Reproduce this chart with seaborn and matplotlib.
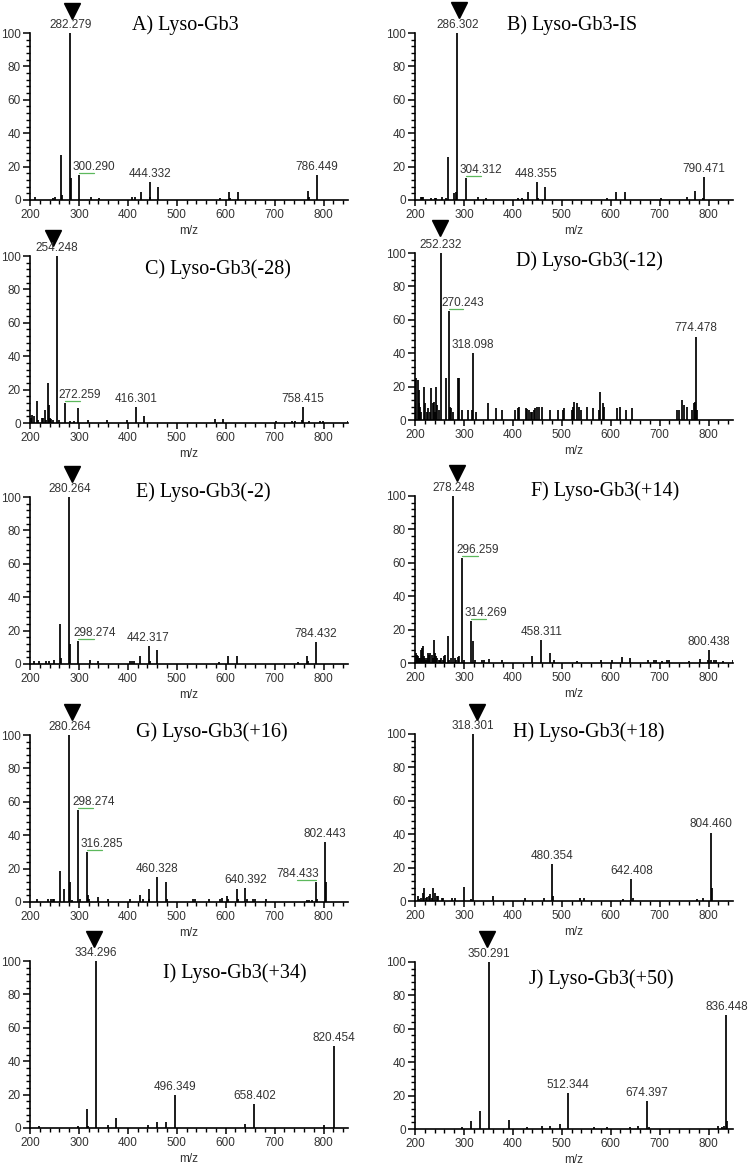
import matplotlib
matplotlib.use("Agg")
import matplotlib.pyplot as plt
import seaborn as sns
import pandas as pd
from matplotlib.ticker import MultipleLocator

sns.set_style("ticks")
plt.rcParams['font.family'] = ['Liberation Sans', 'DejaVu Sans']

# ---------------- data ----------------
A_mz = [210, 246, 251, 264.27, 266.3, 282.279, 283.28, 300.290, 324, 341, 408, 415,
        426.32, 444.332, 446.3, 462.34, 589, 606.38, 609, 624.39, 768.44, 771, 786.449]
A_int = [1.5, 1, 2, 27, 3, 100, 13, 15, 2, 1, 1.5, 1.5,
         5, 11, 1.5, 8, 1, 5, 1, 5, 5.5, 1.5, 15]
A_lab = [282.279, 300.290, 444.332, 786.449]

B_mz = [212, 214, 217, 233, 240, 242, 256, 263, 268.29, 280, 283, 286.302, 304.312,
        328, 345, 411, 418, 430.34, 448.355, 451, 466.36, 593, 610.40, 628.41, 703,
        756, 772.46, 788, 790.471]
B_int = [1.5, 1.5, 1.5, 1, 1, 1, 1.5, 1, 26, 4, 5, 100, 13,
         2, 1, 1, 1, 5, 11, 1, 8, 1, 4.5, 4.5, 1,
         1.5, 5.5, 1, 14]
B_lab = [286.302, 304.312, 448.355, 790.471]

C_mz = [202, 205, 208, 214, 217, 224, 227, 230.7, 233, 236, 238, 240.5, 243, 246,
        254.248, 260, 272.259, 282, 289, 298.27, 318, 358, 399, 416.301, 433, 578,
        595, 702, 735, 741, 756, 758.415, 770, 793, 798, 849]
C_int = [3, 5, 4, 13, 2, 3, 3, 8, 2, 24, 11, 3, 2.5, 1.5,
         100, 2, 12, 1, 1, 9, 2, 2, 1.5, 9.5, 4, 2.5,
         2.5, 1, 1, 1, 2, 9.5, 1, 1, 1, 1]
C_lab = [254.248, 272.259, 416.301, 758.415]

D_mz = [200.7, 202.7, 205.4, 207.5, 208.8, 210.9, 212.9, 218.4, 220.4, 225.2, 227.2,
        230.6, 233.3, 236.1, 238.1, 240.8, 242.9, 245.6, 249.0, 252.232, 262.6,
        270.243, 272.2, 273.5, 278.2, 287.8, 289.8, 296.6, 308.8, 315.6, 318.098,
        325.2, 349.7, 364.6, 378.2, 404.1, 410.2, 412.3, 427.9, 429.9, 432.7, 436.1,
        439.5, 442.9, 446.3, 449.0, 453.1, 459.9, 476.9, 492.5, 502.0, 504.1, 521.1,
        523.1, 525.2, 531.3, 534.7, 539.5, 552.4, 563.3, 575.5, 578.9, 584.4, 587.1,
        612.3, 619.8, 631.3, 644.2, 734.8, 738.8, 745.6, 750.4, 755.2, 766.7, 769.4,
        771.5, 774.478, 776.4]
D_int = [10, 25, 24, 18, 10, 8, 5, 20, 10, 5, 7,
         5, 19, 10, 11, 5, 20, 9, 6, 100, 25,
         65, 8, 7, 5, 25, 25, 6, 6, 6, 40,
         5, 10, 7, 6, 6, 7, 8, 7, 6.5, 6, 5,
         5, 6, 7, 8, 8, 8, 6, 6, 6, 7, 6,
         8, 11, 10, 8, 6, 8, 7, 6, 17, 10, 8,
         7, 8, 6, 7, 6, 6, 12, 9, 8, 6, 10,
         11, 50, 6]
D_lab = [252.232, 270.243, 318.098, 774.478]

E_mz = [208.8, 218.3, 232.5, 238, 248.8, 262.25, 264.3, 280.264, 282.27, 298.274, 322,
        338.3, 405.4, 408.8, 412.2, 424.31, 442.317, 444.3, 460.33, 586.5, 604.37,
        622.38, 747.8, 766.42, 769.0, 784.432]
E_int = [1.5, 1.5, 1.5, 1.5, 2.5, 24, 3.5, 100, 12, 14, 2.5,
         1.5, 1.5, 1.5, 1.5, 5, 11, 1.5, 8.5, 1, 5,
         4.5, 1, 5, 1.5, 13]
E_lab = [280.264, 298.274, 442.317, 784.432]

F_mz = [201.4, 203.4, 205.5, 207.5, 209.5, 211.6, 213.6, 215.7, 217.7, 220.5, 222.5,
        225.2, 227.3, 229.3, 231.4, 234.1, 236.1, 239.0, 240.9, 243.6, 245.7, 248.4,
        251.1, 253.9, 256.6, 259.3, 262.0, 267.0, 269.5, 273.0, 278.248, 280.8, 283.2,
        287.3, 290.0, 296.259, 299.5, 314.269, 318.0, 322.0, 337.7, 341.1, 351.4,
        377.3, 438.6, 458.311, 476.1, 483.6, 530.7, 580.5, 602.3, 622.7, 639.8, 675.9,
        689.5, 692.9, 704.5, 716.1, 718.2, 759.1, 782.8, 798.6, 800.438, 804.8, 810.2,
        815.7, 829.3, 849.8]
F_int = [6, 5, 4, 3, 3, 8, 9, 10, 4, 3, 2,
         3, 6, 5, 6, 5, 3, 14, 6, 4, 3, 2,
         2, 3, 2, 4, 5, 16, 1.5, 3, 100, 3, 2,
         3.5, 4, 63, 2, 25, 13, 2, 1.5, 1.5, 2.5,
         1.5, 4, 14, 6, 1.5, 1, 1.5, 1.5, 3.5, 3, 1.5,
         1.5, 1.5, 1, 1.5, 1.5, 1, 2.5, 1.5, 8, 2, 1.5,
         1.5, 1, 1.5]
F_lab = [278.248, 296.259, 314.269, 458.311, 800.438]

G_mz = [213.6, 236.7, 243.5, 246.3, 249.0, 262.25, 269.4, 280.264, 282.3, 285.0,
        298.274, 301.4, 316.285, 318.4, 321.1, 338.8, 359.2, 405.4, 424.5, 431.3,
        442.3, 444.2, 460.328, 478.34, 480.3, 533.3, 538.1, 566.0, 587.8, 593.2,
        602.7, 605.5, 622.39, 625.9, 640.392, 642.9, 655.8, 660.6, 682.3, 766.0,
        770.0, 775.5, 784.433, 786.4, 802.443, 804.8]
G_int = [2, 2, 2, 2, 2, 18.5, 8, 100, 12, 1,
         55, 1.5, 30, 4, 2, 3, 1.5, 2, 4, 1.5,
         8, 2, 15, 12, 2, 1.5, 1.5, 1.5, 1.5, 2.5,
         3.5, 2, 8, 1.5, 8.5, 2, 1.5, 1.5, 2, 1,
         1, 1, 12, 2, 36, 12]
G_lab = [280.264, 298.274, 316.285, 460.328, 640.392, 784.433, 802.443]

H_mz = [205.4, 208.8, 212.2, 215.6, 217.7, 221.8, 225.2, 228.6, 231.3, 234.0, 237.4,
        240.8, 244.2, 247.6, 254.4, 257.8, 274.8, 281.6, 300.29, 313.6, 318.301, 360.0,
        424.5, 464.0, 480.354, 483.0, 538.1, 544.9, 625.2, 642.408, 645.6, 776.9, 788.5,
        804.460, 806.8]
H_int = [3, 1, 2, 5, 8, 2, 2.5, 3, 4, 2, 8,
         5, 3, 3, 1.5, 1.5, 1.5, 2, 8.5, 1, 100, 3,
         2, 2, 22, 3, 1.5, 1.5, 1, 13, 1.5, 1, 2,
         41, 7.5]
H_lab = [318.301, 480.354, 642.408, 804.460]

I_mz = [218.3, 298.4, 316.29, 318.1, 334.296, 358.8, 375.1, 440.9, 459.9, 477.6,
        496.349, 639.8, 658.402, 801.3, 820.454]
I_int = [1, 1, 11.5, 1, 100, 1.5, 6, 1.5, 3.5, 3.5,
         19.5, 2.5, 14.5, 2, 49]
I_lab = [334.296, 496.349, 658.402, 820.454]

J_mz = [295.5, 313.9, 332.3, 350.291, 392.3, 429.1, 459.1, 476.1, 495.9, 512.344,
        566.1, 593.4, 639.8, 656.2, 674.397, 677.3, 818.4, 828.0, 832.0, 836.448, 838.0]
J_int = [1, 5, 11, 100, 5.5, 1, 1.5, 1.5, 3, 21.5,
         1, 1, 1, 1.5, 17, 1, 2, 1, 1.5, 68, 4.5]
J_lab = [350.291, 512.344, 674.397, 836.448]

titles = ["A) Lyso-Gb3", "B) Lyso-Gb3-IS", "C) Lyso-Gb3(-28)", "D) Lyso-Gb3(-12)",
          "E) Lyso-Gb3(-2)", "F) Lyso-Gb3(+14)", "G) Lyso-Gb3(+16)", "H) Lyso-Gb3(+18)",
          "I) Lyso-Gb3(+34)", "J) Lyso-Gb3(+50)"]

panels = [(A_mz, A_int, A_lab), (B_mz, B_int, B_lab), (C_mz, C_int, C_lab),
          (D_mz, D_int, D_lab), (E_mz, E_int, E_lab), (F_mz, F_int, F_lab),
          (G_mz, G_int, G_lab), (H_mz, H_int, H_lab), (I_mz, I_int, I_lab),
          (J_mz, J_int, J_lab)]

# ---------------- layout (pixels / data offsets) ----------------
W, H = 750, 1166
AX_W, AX_H = 318, 167
ax_left = [30, 415] * 5
ax_bottom = [200, 200, 423, 420, 664, 663, 902, 901, 1128, 1129]
title_xy = [(517, 105), (521, 105), (584, 92), (556, 95), (554, 103),
            (588, 103), (572, 102), (556, 101), (619, 93), (580, 90)]
tri_dx = [3, 4, -7, -1, 5, 7, 5, 8, -3, -4]
tri_y = [113, 114, 111, 115, 114, 114, 114, 113, 113, 114]
label_dx = {0: {300.290: 31}, 1: {304.312: 31}, 2: {272.259: 29}, 3: {270.243: 28},
            4: {298.274: 33}, 5: {296.259: 32, 314.269: 31},
            6: {298.274: 31, 316.285: 30, 784.433: -38}}

TXT = '#333333'
fig = plt.figure(figsize=(W / 100, H / 100), dpi=100)

for i, ((mz, inten, labs), title) in enumerate(zip(panels, titles)):
    ax = fig.add_axes([ax_left[i] / W, 1 - ax_bottom[i] / H, AX_W / W, AX_H / H])
    df = pd.DataFrame({'mz': mz, 'intensity': inten})
    ax.vlines(df['mz'], 0, df['intensity'], color='black', lw=1.25)
    ax.set_xlim(200, 850)
    ax.set_ylim(0, 100)
    sns.despine(ax=ax)
    for s in ('left', 'bottom'):
        ax.spines[s].set_linewidth(1.2)
        ax.spines[s].set_color('black')
    ax.xaxis.set_major_locator(MultipleLocator(100))
    ax.xaxis.set_minor_locator(MultipleLocator(20))
    ax.yaxis.set_major_locator(MultipleLocator(20))
    ax.yaxis.set_minor_locator(MultipleLocator(4))
    ax.tick_params(axis='both', which='major', direction='out', width=1.1,
                   labelsize=8.5, labelcolor=TXT, color='black')
    ax.tick_params(axis='x', which='major', length=4.5, pad=2)
    ax.tick_params(axis='y', which='major', length=5, pad=1.5)
    ax.tick_params(axis='both', which='minor', direction='out', length=2.8, width=1.0,
                   color='black')
    ax.set_xlabel('m/z', fontsize=8.5, color=TXT, labelpad=3)
    ax.set_ylabel('')

    # peak labels
    dxs = label_dx.get(i, {})
    for lm in labs:
        h = df.loc[(df['mz'] - lm).abs().idxmin(), 'intensity']
        dx = dxs.get(lm, 0)
        ax.annotate(f"{lm:.3f}", xy=(lm + dx, h), xytext=(0, 1.5),
                    textcoords='offset points', ha='center', va='bottom',
                    fontsize=8.5, color=TXT, annotation_clip=False)
        if dx != 0:
            ax.plot([lm, lm + dx], [h + 1.2, h + 1.2], color='#5cb85c', lw=0.9,
                    clip_on=False)

    # base-peak marker
    base = df.loc[df['intensity'].idxmax(), 'mz']
    ax.plot([base + tri_dx[i]], [tri_y[i]], marker='v', markersize=11.5,
            color='black', clip_on=False, linestyle='none')

    ax.text(title_xy[i][0], title_xy[i][1], title, ha='center', va='center',
            fontsize=14.5, family=['Liberation Serif', 'DejaVu Serif'], color='black')

fig.savefig('out.png', dpi=100)
